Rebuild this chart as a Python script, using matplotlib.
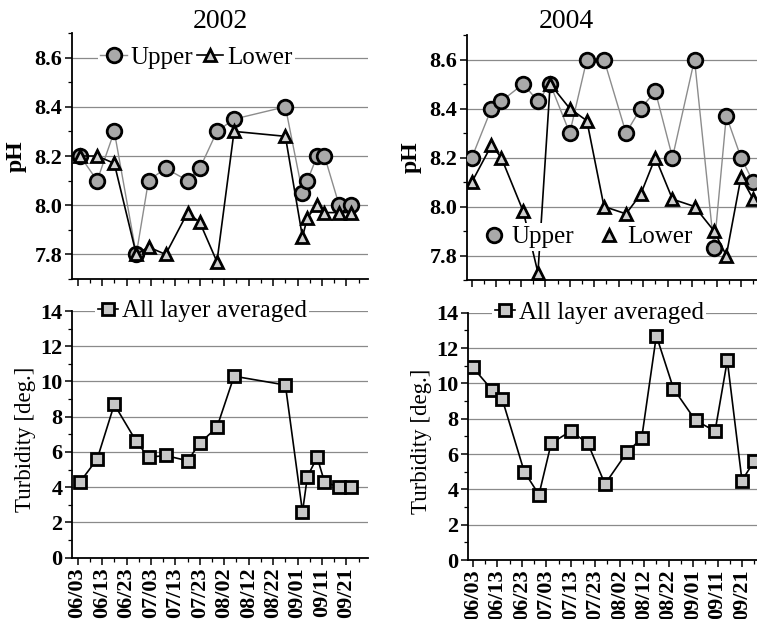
import matplotlib
matplotlib.use("Agg")
import matplotlib.pyplot as plt
import pandas as pd
from matplotlib.lines import Line2D

plt.rcParams["font.family"] = ["Liberation Serif", "DejaVu Serif"]

# ---- 2002 survey ----
dates_2002 = ["06/04", "06/11", "06/18", "06/27", "07/02", "07/09", "07/18", "07/23",
              "07/30", "08/06", "08/27", "09/03", "09/05", "09/09", "09/12", "09/18", "09/23"]
ph_upper_2002 = [8.20, 8.10, 8.30, 7.80, 8.10, 8.15, 8.10, 8.15, 8.30, 8.35, 8.40,
                 8.05, 8.10, 8.20, 8.20, 8.00, 8.00]
ph_lower_2002 = [8.20, 8.20, 8.17, 7.80, 7.83, 7.80, 7.97, 7.93, 7.77, 8.30, 8.28,
                 7.87, 7.95, 8.00, 7.97, 7.97, 7.97]
turb_2002 = [4.3, 5.6, 8.7, 6.6, 5.7, 5.8, 5.5, 6.5, 7.4, 10.3, 9.8,
             2.6, 4.6, 5.7, 4.3, 4.0, 4.0]

# ---- 2004 survey ----
dates_2004 = ["06/03", "06/11", "06/15", "06/24", "06/30", "07/05", "07/13", "07/20", "07/27",
              "08/05", "08/11", "08/17", "08/24", "09/02", "09/10", "09/15", "09/21", "09/26"]
ph_upper_2004 = [8.20, 8.40, 8.43, 8.50, 8.43, 8.50, 8.30, 8.60, 8.60, 8.30, 8.40,
                 8.47, 8.20, 8.60, 7.83, 8.37, 8.20, 8.10]
ph_lower_2004 = [8.10, 8.25, 8.20, 7.98, 7.73, 8.50, 8.40, 8.35, 8.00, 7.97, 8.05,
                 8.20, 8.03, 8.00, 7.90, 7.80, 8.12, 8.03]
turb_2004 = [10.9, 9.6, 9.1, 5.0, 3.7, 6.6, 7.3, 6.6, 4.3, 6.1, 6.9,
             12.7, 9.7, 7.9, 7.3, 11.3, 4.5, 5.6]

tick_labels = ["06/03", "06/13", "06/23", "07/03", "07/13", "07/23", "08/02",
               "08/12", "08/22", "09/01", "09/11", "09/21"]

TICK_FS = 16
LABEL_FS = 16.5
LEG_FS = 18


def to_dt(year, mmdd):
    return pd.to_datetime([f"{year}/{d}" for d in mmdd], format="%Y/%m/%d")


upper_style = dict(color="#8c8c8c", lw=1.0, marker="o", ms=10.5, mfc="#a9a9a9",
                   mec="black", mew=2.0)
lower_style = dict(color="black", lw=1.2, marker="^", ms=8, mfc="#d0d0d0",
                   mec="black", mew=2.0)
turb_style = dict(color="black", lw=1.2, marker="s", ms=8, mfc="#c8c8c8",
                  mec="black", mew=2.0)


def style_axis(ax, year, x_lo, x_hi, show_labels):
    t0 = pd.Timestamp(f"{year}-06-03")
    major = to_dt(year, tick_labels)
    minor = major + pd.Timedelta(days=5)
    ax.set_xlim(t0 + pd.Timedelta(days=x_lo), t0 + pd.Timedelta(days=x_hi))
    ax.set_xticks(major)
    ax.set_xticks(minor, minor=True)
    if show_labels:
        ax.set_xticklabels(tick_labels, rotation=90, fontsize=TICK_FS, fontweight="bold")
    else:
        ax.set_xticklabels([])
    for lab in ax.get_yticklabels():
        lab.set_fontweight("bold")
        lab.set_fontsize(TICK_FS)
    for s in ("top", "right"):
        ax.spines[s].set_visible(False)
    for s in ("left", "bottom"):
        ax.spines[s].set_linewidth(1.3)
    ax.tick_params(axis="both", which="major", direction="out", length=5, width=1.1, pad=2)
    ax.tick_params(axis="both", which="minor", direction="out", length=3, width=0.9)
    ax.grid(axis="y", which="major", color="#8a8a8a", lw=0.9)
    ax.set_axisbelow(True)


fig = plt.figure(figsize=(7.57, 6.19), dpi=100)
W, H = 757, 619


def add_axes(left, top, right, bottom):
    return fig.add_axes([left / W, 1 - bottom / H, (right - left) / W, (bottom - top) / H])


ax_ph02 = add_axes(72, 33, 368, 279)
ax_ph04 = add_axes(467, 35, 763, 280)
ax_tb02 = add_axes(72, 311, 368, 557.7)
ax_tb04 = add_axes(468, 312.7, 764, 560)

x02 = to_dt(2002, dates_2002)
x04 = to_dt(2004, dates_2004)

# pH panels
for ax, x, up, lo, year, xl in ((ax_ph02, x02, ph_upper_2002, ph_lower_2002, 2002, (-2.3, 118.8)),
                                (ax_ph04, x04, ph_upper_2004, ph_lower_2004, 2004, (-2.0, 119.0))):
    ax.plot(x, up, zorder=3, **upper_style)
    ax.plot(x, lo, zorder=4, **lower_style)
    ax.set_ylim(7.7, 8.7)
    ax.set_yticks([7.8, 8.0, 8.2, 8.4, 8.6])
    ax.set_yticks([7.7, 7.9, 8.1, 8.3, 8.5, 8.7], minor=True)
    ax.set_yticklabels(["7.8", "8.0", "8.2", "8.4", "8.6"])
    style_axis(ax, year, *xl, show_labels=False)
    ax.set_ylabel("pH", fontsize=LABEL_FS + 0.5, fontweight="bold")
    ax.yaxis.set_label_coords(-0.152, 0.5)

# Turbidity panels
for ax, x, tb, year, xl in ((ax_tb02, x02, turb_2002, 2002, (-2.3, 118.8)),
                            (ax_tb04, x04, turb_2004, 2004, (-2.0, 119.0))):
    ax.plot(x, tb, zorder=3, **turb_style)
    ax.set_ylim(0, 14)
    ax.set_yticks(range(0, 15, 2))
    ax.set_yticks(range(1, 14, 2), minor=True)
    style_axis(ax, year, *xl, show_labels=True)
    ax.set_ylabel("Turbidity [deg.]", fontsize=LABEL_FS)
    ax.yaxis.set_label_coords(-0.12, 0.48)

# Legends
h_up = Line2D([], [], **upper_style)
h_lo = Line2D([], [], **lower_style)
h_tb = Line2D([], [], **turb_style)
leg_kw = dict(frameon=True, facecolor="white", edgecolor="none", framealpha=1,
              fontsize=LEG_FS, borderpad=0.1, handletextpad=0.15, columnspacing=0.15,
              handlelength=1.05, borderaxespad=0)

ax_ph02.legend([h_up, h_lo], ["Upper", "Lower"], ncol=2, loc="center",
               bbox_to_anchor=(0.42, 0.9), **leg_kw)

h_up_m = Line2D([], [], ls="none", **{k: v for k, v in upper_style.items() if k not in ("color", "lw")})
h_lo_m = Line2D([], [], ls="none", **{k: v for k, v in lower_style.items() if k not in ("color", "lw")})
ax_ph04.legend([h_up_m, h_lo_m], ["Upper", "Lower"], ncol=2, loc="center",
               bbox_to_anchor=(0.41, 0.175),
               **{**leg_kw, "handlelength": 0.8, "handletextpad": 0.3, "columnspacing": 1.0})

for ax, cx in ((ax_tb02, 0.44), (ax_tb04, 0.443)):
    ax.legend([h_tb], ["All layer averaged"], loc="center", bbox_to_anchor=(cx, 1.0),
              **{**leg_kw, "handlelength": 0.8})

fig.text(220 / W, 1 - 22 / H, "2002", ha="center", va="center", fontsize=20)
fig.text(566 / W, 1 - 22 / H, "2004", ha="center", va="center", fontsize=20)

fig.savefig("out.png", dpi=100)
